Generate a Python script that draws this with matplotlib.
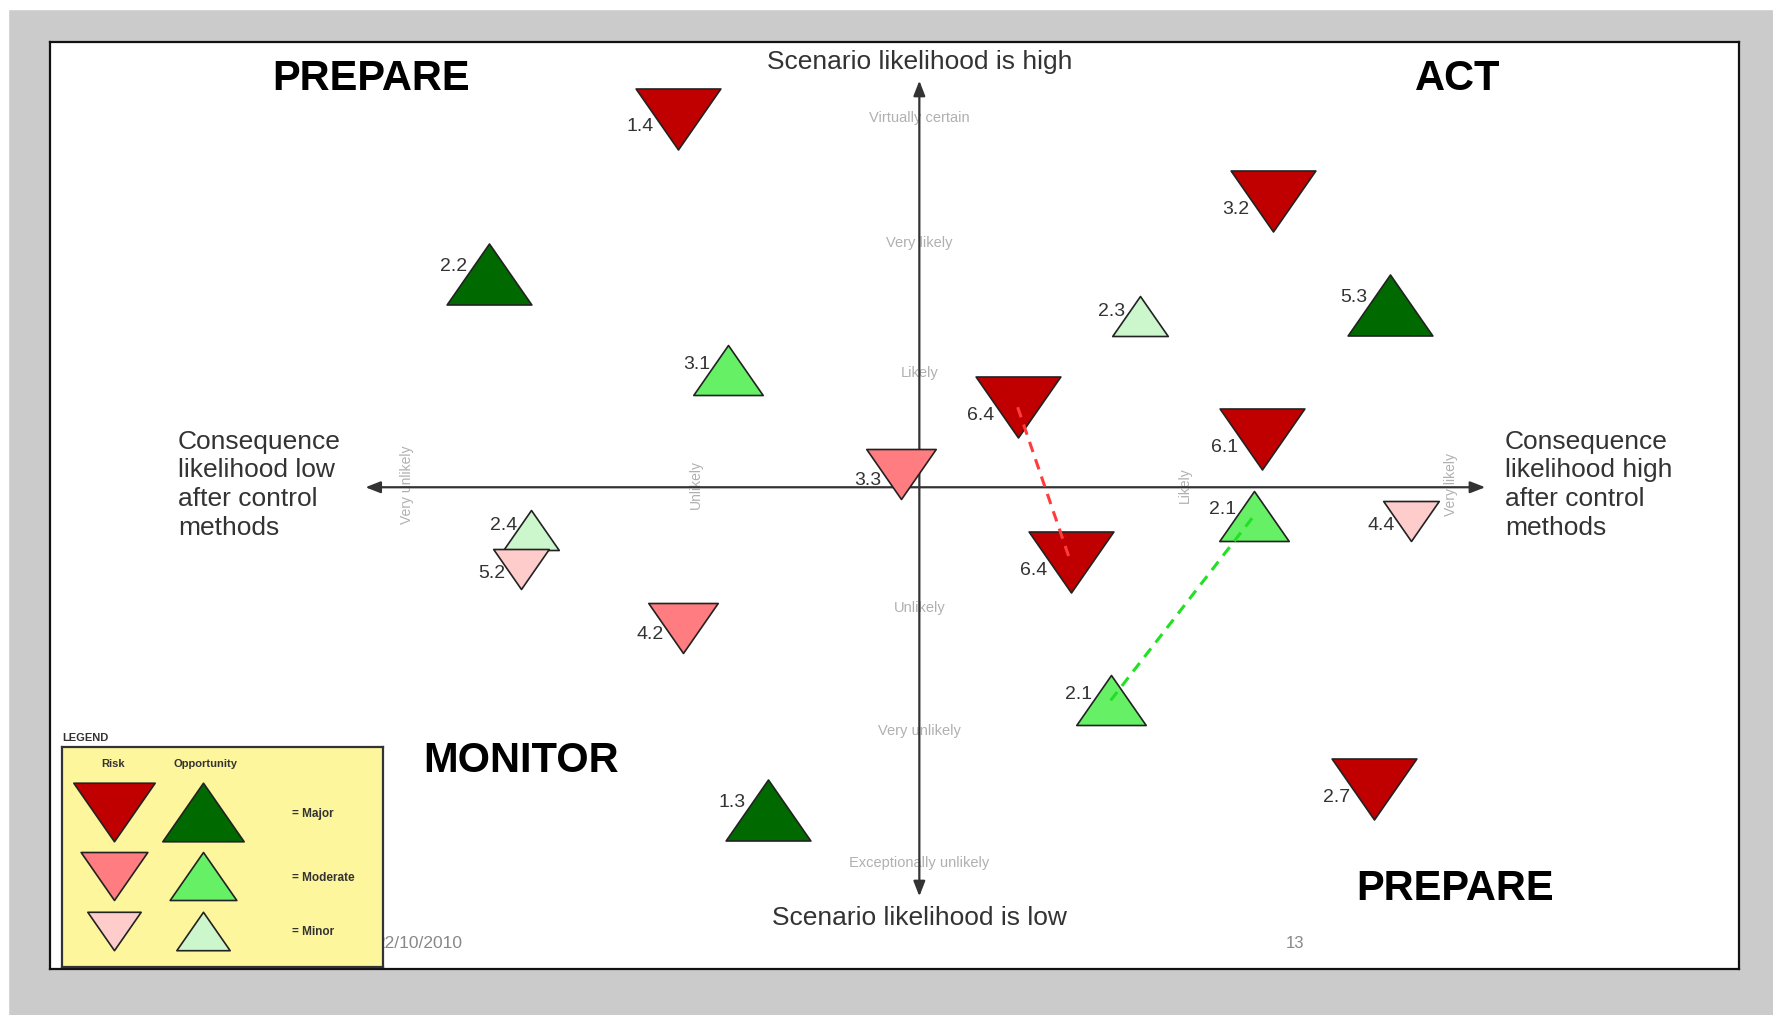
import numpy as np
import matplotlib
matplotlib.use('Agg')
import matplotlib.pyplot as plt
from matplotlib.path import Path
from matplotlib.patches import Rectangle

plt.rcParams['font.family'] = ['Liberation Sans', 'DejaVu Sans']

# --- data ---
# x: consequence likelihood after control (Likely = 1, Very likely = 2)
# y: scenario likelihood (Likely = 1, Very likely = 2, Virtually certain = 3)
ids = ['1.4', '3.2', '2.2', '5.3', '2.3', '3.1', '6.4', '6.1', '3.3',
       '2.1', '4.4', '2.4', '5.2', '6.4', '4.2', '2.1', '1.3', '2.7']
kinds = ['Risk', 'Risk', 'Opportunity', 'Opportunity', 'Opportunity', 'Opportunity',
         'Risk', 'Risk', 'Risk', 'Opportunity', 'Risk', 'Opportunity', 'Risk',
         'Risk', 'Risk', 'Opportunity', 'Opportunity', 'Risk']
severity = ['Major', 'Major', 'Major', 'Major', 'Minor', 'Moderate', 'Major', 'Major',
            'Moderate', 'Moderate', 'Minor', 'Minor', 'Minor', 'Major', 'Moderate',
            'Moderate', 'Major', 'Major']
consequence = [-0.91, 1.33, -1.62, 1.77, 0.83, -0.72, 0.37, 1.29, -0.07,
               1.26, 1.85, -1.46, -1.50, 0.57, -0.89, 0.72, -0.57, 1.71]
scenario = [2.99, 2.32, 1.73, 1.48, 1.39, 0.95, 0.65, 0.39, 0.11,
            -0.23, -0.27, -0.35, -0.66, -0.61, -1.14, -1.73, -2.62, -2.45]
# movements (index from -> index to)
moves = [(6, 13), (15, 9)]

x_levels = ['Very unlikely', 'Unlikely', 'Likely', 'Very likely']
x_level_pos = [-1.93, -0.84, 1.0, 2.0]
y_levels = ['Virtually certain', 'Very likely', 'Likely', 'Unlikely',
            'Very unlikely', 'Exceptionally unlikely']
y_level_pos = [3.0, 1.98, 0.93, -0.98, -1.98, -3.05]

severities = ['Major', 'Moderate', 'Minor']
colors = {
    ('Risk', 'Major'): '#c00000', ('Risk', 'Moderate'): '#ff7c80', ('Risk', 'Minor'): '#ffcccc',
    ('Opportunity', 'Major'): '#006a00', ('Opportunity', 'Moderate'): '#66f066',
    ('Opportunity', 'Minor'): '#ccf7cc',
}
size_pt = {'Major': 61, 'Moderate': 50, 'Minor': 40}
move_color = {'Risk': '#ff3b3b', 'Opportunity': '#22e022'}

r = 0.72
tri_up = Path([(-1, -r), (1, -r), (0, r), (-1, -r)], closed=True)
tri_down = Path([(-1, r), (1, r), (0, -r), (-1, r)], closed=True)
marker_of = {'Risk': tri_down, 'Opportunity': tri_up}

W, H = 1773, 1015
fig = plt.figure(figsize=(W / 100, H / 100), dpi=100, facecolor='#cbcbcb')
fig.patches.append(Rectangle((0, 1 - 9 / H), 1, 9 / H, transform=fig.transFigure,
                             color='white', zorder=0))
fig.patches.append(Rectangle((0, 0), 8 / W, 1, transform=fig.transFigure,
                             color='white', zorder=0))

ax = fig.add_axes([50 / W, 1 - 969 / H, 1689 / W, 927 / H])
ax.set_facecolor('white')
ax.set_xlim(-3.272, 3.085)
ax.set_ylim(-3.91, 3.614)
ax.set_xticks([])
ax.set_yticks([])
for s in ax.spines.values():
    s.set_linewidth(1.6)
    s.set_color('#111111')

# axes arrows
arrow = dict(arrowstyle='<|-|>,head_length=0.9,head_width=0.35', color='#333333',
             lw=1.6, shrinkA=0, shrinkB=0)
ax.annotate('', xy=(2.13, 0), xytext=(-2.085, 0), arrowprops=arrow, zorder=2)
ax.annotate('', xy=(0, 3.30), xytext=(0, -3.32), arrowprops=arrow, zorder=2)

# level labels along the axes
for lab, xp in zip(x_levels, x_level_pos):
    ax.text(xp, 0.02, lab, rotation=90, ha='center', va='center', fontsize=10,
            color='#b0b0b0', zorder=1)
for lab, yp in zip(y_levels, y_level_pos):
    ax.text(0, yp, lab, ha='center', va='center', fontsize=10.5, color='#b0b0b0', zorder=1)

# axis titles
txt = dict(fontsize=19, color='#333333')
ax.text(0, 3.45, 'Scenario likelihood is high', ha='center', va='center', **txt)
ax.text(0, -3.495, 'Scenario likelihood is low', ha='center', va='center', **txt)
ax.text(-2.79, 0.02, 'Consequence\nlikelihood low\nafter control\nmethods', ha='left',
        va='center', linespacing=1.25, **txt)
ax.text(2.204, 0.02, 'Consequence\nlikelihood high\nafter control\nmethods', ha='left',
        va='center', linespacing=1.25, **txt)

# quadrant labels
quad = dict(fontsize=30, fontweight='bold', color='black', ha='center', va='center')
ax.text(-2.064, 3.31, 'PREPARE', **quad)
ax.text(2.026, 3.31, 'ACT', **quad)
ax.text(-1.498, -2.22, 'MONITOR', **quad)
ax.text(2.017, -3.26, 'PREPARE', **quad)

# footer
ax.text(-1.885, -3.70, '22/10/2010', ha='center', va='center', fontsize=12.5, color='#888888')
ax.text(1.413, -3.70, '13', ha='center', va='center', fontsize=12, color='#888888')

# triangles
for i, lab in enumerate(ids):
    k, sev = kinds[i], severity[i]
    ms = size_pt[sev]
    ax.plot(consequence[i], scenario[i], linestyle='none', marker=marker_of[k],
            markersize=ms, markerfacecolor=colors[(k, sev)], markeredgecolor='#222222',
            markeredgewidth=1.2, zorder=4)
    h = ms * r
    if k == 'Risk':
        off = (-0.28 * ms, -0.13 * h)
    else:
        off = (-0.26 * ms, 0.12 * h)
    ax.annotate(lab, (consequence[i], scenario[i]), xytext=off, textcoords='offset points',
                ha='right', va='center', fontsize=14, color='#333333', zorder=5)

# movement lines
for a, b in moves:
    ax.plot([consequence[a], consequence[b]], [scenario[a], scenario[b]],
            linestyle=(0, (3.5, 2.5)), lw=2.2, color=move_color[kinds[a]], zorder=6)

# legend box
lg = fig.add_axes([62.2 / W, 1 - 966.7 / H, 321 / W, 219.3 / H])
lg.set_facecolor('#fdf69c')
lg.set_xlim(0, 1)
lg.set_ylim(0, 1)
lg.set_xticks([])
lg.set_yticks([])
for s in lg.spines.values():
    s.set_linewidth(1.6)
    s.set_color('#333333')
lg.text(0.0, 1.045, 'LEGEND', ha='left', va='center', fontsize=8, fontweight='bold',
        color='#333333', transform=lg.transAxes, clip_on=False)
lg.text(0.158, 0.923, 'Risk', ha='center', va='center', fontsize=8, fontweight='bold',
        color='#333333')
lg.text(0.447, 0.923, 'Opportunity', ha='center', va='center', fontsize=8,
        fontweight='bold', color='#333333')
row_y = [0.706, 0.412, 0.165]
for sev, yy in zip(severities, row_y):
    for k, xx in zip(['Risk', 'Opportunity'], [0.162, 0.44]):
        lg.plot(xx, yy, linestyle='none', marker=marker_of[k], markersize=size_pt[sev] * 0.96,
                markerfacecolor=colors[(k, sev)], markeredgecolor='#222222',
                markeredgewidth=1.2)
    lg.text(0.715, yy - 0.008, '= ' + sev, ha='left', va='center', fontsize=8.5,
            fontweight='bold', color='#333333')

fig.savefig('out.png', dpi=100, facecolor=fig.get_facecolor())
